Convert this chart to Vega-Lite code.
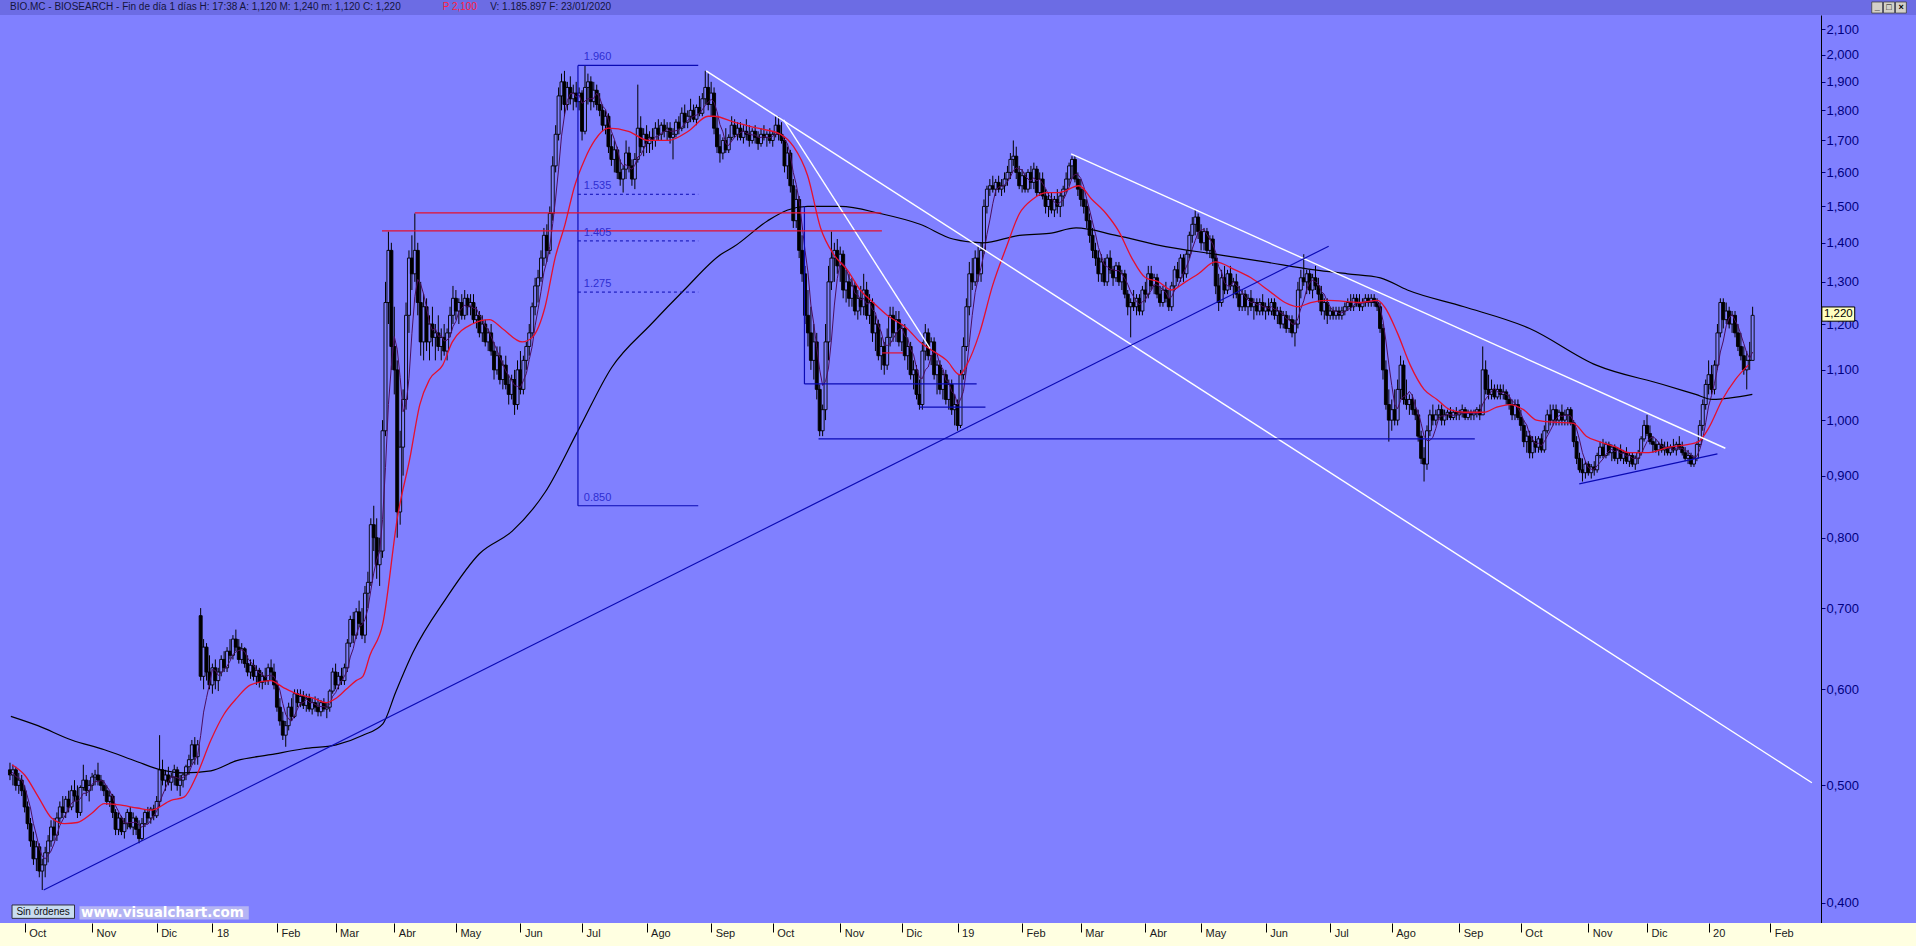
{
"$schema":"https://vega.github.io/schema/vega-lite/v6.json",
"width":1821,"height":908,
"autosize":{"type":"none"},
"padding":{"left":0,"top":15,"right":95,"bottom":23},
"background":"#8080FF",
"config":{"view":{"stroke":null},"font":"Liberation Sans"},
"datasets":{
"bars":[
{"i":0,"o":0.515,"h":0.522,"l":0.505,"c":0.51},{"i":1,"o":0.51,"h":0.52,"l":0.50,"c":0.515},{"i":2,"o":0.515,"h":0.518,"l":0.495,"c":0.50},{"i":3,"o":0.50,"h":0.512,"l":0.492,"c":0.505},{"i":4,"o":0.505,"h":0.51,"l":0.49,"c":0.495},{"i":5,"o":0.495,"h":0.50,"l":0.475,"c":0.48},{"i":6,"o":0.48,"h":0.485,"l":0.46,"c":0.465},{"i":7,"o":0.465,"h":0.47,"l":0.445,"c":0.45},{"i":8,"o":0.45,"h":0.458,"l":0.43,"c":0.435},{"i":9,"o":0.435,"h":0.45,"l":0.425,"c":0.445},
{"i":10,"o":0.445,"h":0.448,"l":0.42,"c":0.425},{"i":11,"o":0.425,"h":0.435,"l":0.41,"c":0.43},{"i":12,"o":0.43,"h":0.445,"l":0.42,"c":0.44},{"i":13,"o":0.44,"h":0.455,"l":0.432,"c":0.45},{"i":14,"o":0.45,"h":0.468,"l":0.445,"c":0.462},{"i":15,"o":0.462,"h":0.47,"l":0.45,"c":0.455},{"i":16,"o":0.455,"h":0.475,"l":0.45,"c":0.47},{"i":17,"o":0.47,"h":0.485,"l":0.465,"c":0.48},{"i":18,"o":0.48,"h":0.49,"l":0.47,"c":0.475},{"i":19,"o":0.475,"h":0.49,"l":0.47,"c":0.487},
{"i":20,"o":0.487,"h":0.495,"l":0.475,"c":0.48},{"i":21,"o":0.48,"h":0.50,"l":0.477,"c":0.495},{"i":22,"o":0.495,"h":0.505,"l":0.485,"c":0.49},{"i":23,"o":0.49,"h":0.50,"l":0.47,"c":0.475},{"i":24,"o":0.475,"h":0.50,"l":0.472,"c":0.498},{"i":25,"o":0.498,"h":0.52,"l":0.495,"c":0.505},{"i":26,"o":0.505,"h":0.51,"l":0.49,"c":0.495},{"i":27,"o":0.495,"h":0.505,"l":0.485,"c":0.50},{"i":28,"o":0.50,"h":0.512,"l":0.495,"c":0.508},{"i":29,"o":0.508,"h":0.515,"l":0.50,"c":0.51},
{"i":30,"o":0.51,"h":0.522,"l":0.50,"c":0.505},{"i":31,"o":0.505,"h":0.51,"l":0.495,"c":0.50},{"i":32,"o":0.50,"h":0.505,"l":0.49,"c":0.495},{"i":33,"o":0.495,"h":0.50,"l":0.482,"c":0.485},{"i":34,"o":0.485,"h":0.495,"l":0.48,"c":0.49},{"i":35,"o":0.49,"h":0.492,"l":0.47,"c":0.475},{"i":36,"o":0.475,"h":0.478,"l":0.455,"c":0.46},{"i":37,"o":0.46,"h":0.475,"l":0.455,"c":0.47},{"i":38,"o":0.47,"h":0.472,"l":0.455,"c":0.458},{"i":39,"o":0.458,"h":0.47,"l":0.452,"c":0.465},
{"i":40,"o":0.465,"h":0.478,"l":0.46,"c":0.475},{"i":41,"o":0.475,"h":0.48,"l":0.46,"c":0.462},{"i":42,"o":0.462,"h":0.475,"l":0.455,"c":0.47},{"i":43,"o":0.47,"h":0.472,"l":0.455,"c":0.46},{"i":44,"o":0.46,"h":0.468,"l":0.448,"c":0.452},{"i":45,"o":0.452,"h":0.47,"l":0.45,"c":0.465},{"i":46,"o":0.465,"h":0.478,"l":0.462,"c":0.475},{"i":47,"o":0.475,"h":0.48,"l":0.465,"c":0.47},{"i":48,"o":0.47,"h":0.48,"l":0.465,"c":0.478},{"i":49,"o":0.478,"h":0.482,"l":0.468,"c":0.472},
{"i":50,"o":0.472,"h":0.49,"l":0.47,"c":0.485},{"i":51,"o":0.485,"h":0.55,"l":0.48,"c":0.515},{"i":52,"o":0.515,"h":0.525,"l":0.50,"c":0.505},{"i":53,"o":0.505,"h":0.515,"l":0.495,"c":0.51},{"i":54,"o":0.51,"h":0.518,"l":0.50,"c":0.503},{"i":55,"o":0.503,"h":0.512,"l":0.495,"c":0.508},{"i":56,"o":0.508,"h":0.52,"l":0.50,"c":0.515},{"i":57,"o":0.515,"h":0.518,"l":0.495,"c":0.50},{"i":58,"o":0.50,"h":0.51,"l":0.49,"c":0.505},{"i":59,"o":0.505,"h":0.512,"l":0.498,"c":0.51},
{"i":60,"o":0.51,"h":0.52,"l":0.505,"c":0.518},{"i":61,"o":0.518,"h":0.53,"l":0.51,"c":0.525},{"i":62,"o":0.525,"h":0.545,"l":0.52,"c":0.54},{"i":63,"o":0.54,"h":0.548,"l":0.52,"c":0.528},{"i":64,"o":0.528,"h":0.545,"l":0.52,"c":0.54},{"i":65,"o":0.69,"h":0.70,"l":0.61,"c":0.615},{"i":66,"o":0.615,"h":0.66,"l":0.60,"c":0.65},{"i":67,"o":0.65,"h":0.655,"l":0.61,"c":0.62},{"i":68,"o":0.62,"h":0.64,"l":0.60,"c":0.605},{"i":69,"o":0.605,"h":0.63,"l":0.595,"c":0.625},
{"i":70,"o":0.625,"h":0.635,"l":0.60,"c":0.61},{"i":71,"o":0.61,"h":0.625,"l":0.598,"c":0.62},{"i":72,"o":0.62,"h":0.64,"l":0.615,"c":0.635},{"i":73,"o":0.635,"h":0.645,"l":0.62,"c":0.625},{"i":74,"o":0.625,"h":0.65,"l":0.62,"c":0.645},{"i":75,"o":0.645,"h":0.66,"l":0.635,"c":0.64},{"i":76,"o":0.64,"h":0.665,"l":0.635,"c":0.66},{"i":77,"o":0.66,"h":0.672,"l":0.645,"c":0.65},{"i":78,"o":0.65,"h":0.66,"l":0.63,"c":0.635},{"i":79,"o":0.635,"h":0.655,"l":0.63,"c":0.648},
{"i":80,"o":0.648,"h":0.65,"l":0.625,"c":0.63},{"i":81,"o":0.63,"h":0.64,"l":0.615,"c":0.62},{"i":82,"o":0.62,"h":0.635,"l":0.612,"c":0.628},{"i":83,"o":0.628,"h":0.635,"l":0.61,"c":0.615},{"i":84,"o":0.615,"h":0.628,"l":0.605,"c":0.622},{"i":85,"o":0.622,"h":0.625,"l":0.602,"c":0.608},{"i":86,"o":0.608,"h":0.62,"l":0.60,"c":0.615},{"i":87,"o":0.615,"h":0.625,"l":0.605,"c":0.61},{"i":88,"o":0.61,"h":0.63,"l":0.605,"c":0.625},{"i":89,"o":0.625,"h":0.635,"l":0.61,"c":0.62},
{"i":90,"o":0.62,"h":0.63,"l":0.60,"c":0.605},{"i":91,"o":0.605,"h":0.61,"l":0.575,"c":0.58},{"i":92,"o":0.58,"h":0.59,"l":0.56,"c":0.565},{"i":93,"o":0.565,"h":0.575,"l":0.545,"c":0.55},{"i":94,"o":0.55,"h":0.565,"l":0.538,"c":0.56},{"i":95,"o":0.56,"h":0.585,"l":0.555,"c":0.58},{"i":96,"o":0.58,"h":0.59,"l":0.565,"c":0.57},{"i":97,"o":0.57,"h":0.60,"l":0.568,"c":0.595},{"i":98,"o":0.595,"h":0.60,"l":0.58,"c":0.585},{"i":99,"o":0.585,"h":0.60,"l":0.58,"c":0.592},
{"i":100,"o":0.592,"h":0.598,"l":0.578,"c":0.582},{"i":101,"o":0.582,"h":0.595,"l":0.575,"c":0.59},{"i":102,"o":0.59,"h":0.595,"l":0.575,"c":0.578},{"i":103,"o":0.578,"h":0.59,"l":0.572,"c":0.585},{"i":104,"o":0.585,"h":0.592,"l":0.575,"c":0.58},{"i":105,"o":0.58,"h":0.59,"l":0.57,"c":0.575},{"i":106,"o":0.575,"h":0.588,"l":0.57,"c":0.585},{"i":107,"o":0.585,"h":0.59,"l":0.575,"c":0.578},{"i":108,"o":0.578,"h":0.585,"l":0.568,"c":0.58},{"i":109,"o":0.58,"h":0.60,"l":0.575,"c":0.598},
{"i":110,"o":0.598,"h":0.625,"l":0.595,"c":0.62},{"i":111,"o":0.62,"h":0.63,"l":0.60,"c":0.605},{"i":112,"o":0.605,"h":0.62,"l":0.60,"c":0.615},{"i":113,"o":0.615,"h":0.625,"l":0.605,"c":0.61},{"i":114,"o":0.61,"h":0.63,"l":0.605,"c":0.625},{"i":115,"o":0.625,"h":0.66,"l":0.62,"c":0.655},{"i":116,"o":0.655,"h":0.69,"l":0.65,"c":0.685},{"i":117,"o":0.685,"h":0.695,"l":0.655,"c":0.665},{"i":118,"o":0.665,"h":0.70,"l":0.66,"c":0.695},{"i":119,"o":0.695,"h":0.71,"l":0.675,"c":0.68},
{"i":120,"o":0.68,"h":0.70,"l":0.66,"c":0.665},{"i":121,"o":0.665,"h":0.73,"l":0.655,"c":0.72},{"i":122,"o":0.72,"h":0.75,"l":0.70,"c":0.735},{"i":123,"o":0.735,"h":0.83,"l":0.73,"c":0.82},{"i":124,"o":0.82,"h":0.85,"l":0.78,"c":0.80},{"i":125,"o":0.80,"h":0.83,"l":0.74,"c":0.76},{"i":126,"o":0.76,"h":0.80,"l":0.73,"c":0.78},{"i":127,"o":0.78,"h":1.0,"l":0.77,"c":0.98},{"i":128,"o":0.98,"h":1.30,"l":0.97,"c":1.25},{"i":129,"o":1.25,"h":1.43,"l":1.20,"c":1.38},
{"i":130,"o":1.38,"h":1.40,"l":1.10,"c":1.15},{"i":131,"o":1.15,"h":1.24,"l":1.05,"c":1.10},{"i":132,"o":1.10,"h":1.12,"l":0.80,"c":0.84},{"i":133,"o":0.84,"h":0.98,"l":0.82,"c":0.95},{"i":134,"o":0.95,"h":1.06,"l":0.90,"c":1.04},{"i":135,"o":1.04,"h":1.25,"l":1.02,"c":1.22},{"i":136,"o":1.22,"h":1.38,"l":1.18,"c":1.36},{"i":137,"o":1.36,"h":1.42,"l":1.28,"c":1.32},{"i":138,"o":1.32,"h":1.48,"l":1.30,"c":1.38},{"i":139,"o":1.38,"h":1.40,"l":1.22,"c":1.25},
{"i":140,"o":1.25,"h":1.30,"l":1.13,"c":1.16},{"i":141,"o":1.16,"h":1.27,"l":1.12,"c":1.24},{"i":142,"o":1.24,"h":1.26,"l":1.14,"c":1.16},{"i":143,"o":1.16,"h":1.22,"l":1.12,"c":1.20},{"i":144,"o":1.20,"h":1.24,"l":1.15,"c":1.17},{"i":145,"o":1.17,"h":1.20,"l":1.12,"c":1.18},{"i":146,"o":1.18,"h":1.22,"l":1.14,"c":1.15},{"i":147,"o":1.15,"h":1.19,"l":1.12,"c":1.17},{"i":148,"o":1.17,"h":1.20,"l":1.13,"c":1.14},{"i":149,"o":1.14,"h":1.19,"l":1.12,"c":1.18},
{"i":150,"o":1.18,"h":1.24,"l":1.17,"c":1.22},{"i":151,"o":1.22,"h":1.29,"l":1.20,"c":1.26},{"i":152,"o":1.26,"h":1.28,"l":1.21,"c":1.23},{"i":153,"o":1.23,"h":1.26,"l":1.20,"c":1.25},{"i":154,"o":1.25,"h":1.27,"l":1.21,"c":1.22},{"i":155,"o":1.22,"h":1.28,"l":1.21,"c":1.26},{"i":156,"o":1.26,"h":1.27,"l":1.22,"c":1.24},{"i":157,"o":1.24,"h":1.27,"l":1.22,"c":1.25},{"i":158,"o":1.25,"h":1.27,"l":1.20,"c":1.21},{"i":159,"o":1.21,"h":1.24,"l":1.19,"c":1.22},
{"i":160,"o":1.22,"h":1.23,"l":1.17,"c":1.18},{"i":161,"o":1.18,"h":1.22,"l":1.16,"c":1.20},{"i":162,"o":1.20,"h":1.21,"l":1.15,"c":1.16},{"i":163,"o":1.16,"h":1.19,"l":1.14,"c":1.18},{"i":164,"o":1.18,"h":1.20,"l":1.13,"c":1.14},{"i":165,"o":1.14,"h":1.16,"l":1.08,"c":1.10},{"i":166,"o":1.10,"h":1.15,"l":1.09,"c":1.13},{"i":167,"o":1.13,"h":1.15,"l":1.07,"c":1.08},{"i":168,"o":1.08,"h":1.12,"l":1.06,"c":1.11},{"i":169,"o":1.11,"h":1.13,"l":1.06,"c":1.07},
{"i":170,"o":1.07,"h":1.09,"l":1.03,"c":1.05},{"i":171,"o":1.05,"h":1.09,"l":1.04,"c":1.08},{"i":172,"o":1.08,"h":1.10,"l":1.01,"c":1.03},{"i":173,"o":1.03,"h":1.12,"l":1.02,"c":1.10},{"i":174,"o":1.10,"h":1.14,"l":1.05,"c":1.06},{"i":175,"o":1.06,"h":1.13,"l":1.05,"c":1.12},{"i":176,"o":1.12,"h":1.16,"l":1.10,"c":1.15},{"i":177,"o":1.15,"h":1.20,"l":1.13,"c":1.18},{"i":178,"o":1.18,"h":1.25,"l":1.17,"c":1.24},{"i":179,"o":1.24,"h":1.31,"l":1.22,"c":1.29},
{"i":180,"o":1.29,"h":1.33,"l":1.25,"c":1.31},{"i":181,"o":1.31,"h":1.38,"l":1.30,"c":1.36},{"i":182,"o":1.36,"h":1.44,"l":1.34,"c":1.42},{"i":183,"o":1.42,"h":1.45,"l":1.35,"c":1.38},{"i":184,"o":1.38,"h":1.50,"l":1.37,"c":1.48},{"i":185,"o":1.48,"h":1.65,"l":1.46,"c":1.62},{"i":186,"o":1.62,"h":1.75,"l":1.60,"c":1.72},{"i":187,"o":1.72,"h":1.88,"l":1.70,"c":1.85},{"i":188,"o":1.85,"h":1.93,"l":1.80,"c":1.90},{"i":189,"o":1.90,"h":1.94,"l":1.78,"c":1.82},
{"i":190,"o":1.82,"h":1.90,"l":1.80,"c":1.88},{"i":191,"o":1.88,"h":1.92,"l":1.82,"c":1.84},{"i":192,"o":1.84,"h":1.89,"l":1.80,"c":1.86},{"i":193,"o":1.86,"h":1.90,"l":1.81,"c":1.83},{"i":194,"o":1.83,"h":1.88,"l":1.80,"c":1.86},{"i":195,"o":1.86,"h":1.87,"l":1.70,"c":1.73},{"i":196,"o":1.73,"h":1.96,"l":1.72,"c":1.88},{"i":197,"o":1.88,"h":1.93,"l":1.82,"c":1.90},{"i":198,"o":1.90,"h":1.92,"l":1.80,"c":1.83},{"i":199,"o":1.83,"h":1.90,"l":1.81,"c":1.87},
{"i":200,"o":1.87,"h":1.89,"l":1.80,"c":1.82},{"i":201,"o":1.82,"h":1.86,"l":1.78,"c":1.80},{"i":202,"o":1.80,"h":1.82,"l":1.73,"c":1.75},{"i":203,"o":1.75,"h":1.80,"l":1.72,"c":1.78},{"i":204,"o":1.78,"h":1.79,"l":1.66,"c":1.68},{"i":205,"o":1.68,"h":1.72,"l":1.62,"c":1.64},{"i":206,"o":1.64,"h":1.70,"l":1.60,"c":1.67},{"i":207,"o":1.67,"h":1.68,"l":1.58,"c":1.60},{"i":208,"o":1.60,"h":1.64,"l":1.56,"c":1.58},{"i":209,"o":1.58,"h":1.62,"l":1.54,"c":1.61},
{"i":210,"o":1.61,"h":1.70,"l":1.58,"c":1.66},{"i":211,"o":1.66,"h":1.68,"l":1.60,"c":1.62},{"i":212,"o":1.62,"h":1.64,"l":1.56,"c":1.58},{"i":213,"o":1.58,"h":1.66,"l":1.55,"c":1.64},{"i":214,"o":1.64,"h":1.89,"l":1.63,"c":1.74},{"i":215,"o":1.74,"h":1.78,"l":1.66,"c":1.68},{"i":216,"o":1.68,"h":1.74,"l":1.65,"c":1.72},{"i":217,"o":1.72,"h":1.75,"l":1.66,"c":1.69},{"i":218,"o":1.69,"h":1.73,"l":1.66,"c":1.71},{"i":219,"o":1.71,"h":1.74,"l":1.67,"c":1.70},
{"i":220,"o":1.70,"h":1.76,"l":1.68,"c":1.74},{"i":221,"o":1.74,"h":1.77,"l":1.70,"c":1.72},{"i":222,"o":1.72,"h":1.76,"l":1.70,"c":1.75},{"i":223,"o":1.75,"h":1.77,"l":1.71,"c":1.73},{"i":224,"o":1.73,"h":1.76,"l":1.70,"c":1.74},{"i":225,"o":1.74,"h":1.76,"l":1.69,"c":1.71},{"i":226,"o":1.71,"h":1.74,"l":1.64,"c":1.72},{"i":227,"o":1.72,"h":1.77,"l":1.71,"c":1.76},{"i":228,"o":1.76,"h":1.78,"l":1.72,"c":1.74},{"i":229,"o":1.74,"h":1.81,"l":1.73,"c":1.79},
{"i":230,"o":1.79,"h":1.82,"l":1.74,"c":1.76},{"i":231,"o":1.76,"h":1.80,"l":1.74,"c":1.78},{"i":232,"o":1.78,"h":1.84,"l":1.76,"c":1.80},{"i":233,"o":1.80,"h":1.82,"l":1.76,"c":1.77},{"i":234,"o":1.77,"h":1.82,"l":1.75,"c":1.81},{"i":235,"o":1.81,"h":1.85,"l":1.78,"c":1.79},{"i":236,"o":1.79,"h":1.86,"l":1.78,"c":1.84},{"i":237,"o":1.84,"h":1.94,"l":1.82,"c":1.88},{"i":238,"o":1.88,"h":1.93,"l":1.80,"c":1.82},{"i":239,"o":1.82,"h":1.90,"l":1.78,"c":1.86},
{"i":240,"o":1.86,"h":1.88,"l":1.72,"c":1.74},{"i":241,"o":1.74,"h":1.78,"l":1.66,"c":1.68},{"i":242,"o":1.68,"h":1.72,"l":1.63,"c":1.66},{"i":243,"o":1.66,"h":1.71,"l":1.64,"c":1.70},{"i":244,"o":1.70,"h":1.74,"l":1.66,"c":1.67},{"i":245,"o":1.67,"h":1.72,"l":1.66,"c":1.71},{"i":246,"o":1.71,"h":1.78,"l":1.70,"c":1.75},{"i":247,"o":1.75,"h":1.77,"l":1.71,"c":1.72},{"i":248,"o":1.72,"h":1.76,"l":1.70,"c":1.74},{"i":249,"o":1.74,"h":1.76,"l":1.70,"c":1.71},
{"i":250,"o":1.71,"h":1.75,"l":1.69,"c":1.73},{"i":251,"o":1.73,"h":1.77,"l":1.70,"c":1.72},{"i":252,"o":1.72,"h":1.75,"l":1.68,"c":1.70},{"i":253,"o":1.70,"h":1.74,"l":1.69,"c":1.73},{"i":254,"o":1.73,"h":1.75,"l":1.69,"c":1.71},{"i":255,"o":1.71,"h":1.73,"l":1.67,"c":1.69},{"i":256,"o":1.69,"h":1.74,"l":1.68,"c":1.72},{"i":257,"o":1.72,"h":1.75,"l":1.70,"c":1.71},{"i":258,"o":1.71,"h":1.73,"l":1.68,"c":1.72},{"i":259,"o":1.72,"h":1.74,"l":1.69,"c":1.70},
{"i":260,"o":1.70,"h":1.73,"l":1.68,"c":1.72},{"i":261,"o":1.72,"h":1.78,"l":1.71,"c":1.75},{"i":262,"o":1.75,"h":1.78,"l":1.70,"c":1.72},{"i":263,"o":1.72,"h":1.76,"l":1.69,"c":1.70},{"i":264,"o":1.70,"h":1.71,"l":1.60,"c":1.62},{"i":265,"o":1.62,"h":1.68,"l":1.58,"c":1.66},{"i":266,"o":1.66,"h":1.67,"l":1.54,"c":1.56},{"i":267,"o":1.56,"h":1.58,"l":1.44,"c":1.46},{"i":268,"o":1.46,"h":1.55,"l":1.44,"c":1.52},{"i":269,"o":1.52,"h":1.53,"l":1.36,"c":1.38},
{"i":270,"o":1.38,"h":1.42,"l":1.30,"c":1.32},{"i":271,"o":1.32,"h":1.34,"l":1.20,"c":1.22},{"i":272,"o":1.22,"h":1.28,"l":1.15,"c":1.18},{"i":273,"o":1.18,"h":1.24,"l":1.10,"c":1.12},{"i":274,"o":1.12,"h":1.20,"l":1.08,"c":1.16},{"i":275,"o":1.16,"h":1.18,"l":1.04,"c":1.06},{"i":276,"o":1.06,"h":1.07,"l":0.97,"c":0.98},{"i":277,"o":0.98,"h":1.03,"l":0.97,"c":1.02},{"i":278,"o":1.02,"h":1.20,"l":1.00,"c":1.16},{"i":279,"o":1.16,"h":1.34,"l":1.12,"c":1.30},
{"i":280,"o":1.30,"h":1.43,"l":1.28,"c":1.36},{"i":281,"o":1.36,"h":1.40,"l":1.30,"c":1.38},{"i":282,"o":1.38,"h":1.41,"l":1.32,"c":1.34},{"i":283,"o":1.34,"h":1.39,"l":1.30,"c":1.37},{"i":284,"o":1.37,"h":1.38,"l":1.26,"c":1.28},{"i":285,"o":1.28,"h":1.33,"l":1.25,"c":1.30},{"i":286,"o":1.30,"h":1.32,"l":1.24,"c":1.26},{"i":287,"o":1.26,"h":1.31,"l":1.24,"c":1.29},{"i":288,"o":1.29,"h":1.30,"l":1.22,"c":1.23},{"i":289,"o":1.23,"h":1.28,"l":1.21,"c":1.26},
{"i":290,"o":1.26,"h":1.29,"l":1.22,"c":1.24},{"i":291,"o":1.24,"h":1.32,"l":1.22,"c":1.28},{"i":292,"o":1.28,"h":1.30,"l":1.21,"c":1.22},{"i":293,"o":1.22,"h":1.27,"l":1.20,"c":1.25},{"i":294,"o":1.25,"h":1.26,"l":1.16,"c":1.18},{"i":295,"o":1.18,"h":1.22,"l":1.14,"c":1.20},{"i":296,"o":1.20,"h":1.21,"l":1.12,"c":1.13},{"i":297,"o":1.13,"h":1.17,"l":1.10,"c":1.15},{"i":298,"o":1.15,"h":1.16,"l":1.09,"c":1.11},{"i":299,"o":1.11,"h":1.19,"l":1.10,"c":1.17},
{"i":300,"o":1.17,"h":1.24,"l":1.15,"c":1.22},{"i":301,"o":1.22,"h":1.24,"l":1.16,"c":1.18},{"i":302,"o":1.18,"h":1.23,"l":1.16,"c":1.21},{"i":303,"o":1.21,"h":1.23,"l":1.15,"c":1.16},{"i":304,"o":1.16,"h":1.20,"l":1.14,"c":1.19},{"i":305,"o":1.19,"h":1.20,"l":1.12,"c":1.13},{"i":306,"o":1.13,"h":1.17,"l":1.10,"c":1.15},{"i":307,"o":1.15,"h":1.16,"l":1.08,"c":1.09},{"i":308,"o":1.09,"h":1.12,"l":1.06,"c":1.10},{"i":309,"o":1.10,"h":1.11,"l":1.04,"c":1.05},
{"i":310,"o":1.05,"h":1.08,"l":1.02,"c":1.03},{"i":311,"o":1.03,"h":1.16,"l":1.02,"c":1.14},{"i":312,"o":1.14,"h":1.20,"l":1.12,"c":1.18},{"i":313,"o":1.18,"h":1.19,"l":1.12,"c":1.13},{"i":314,"o":1.13,"h":1.17,"l":1.11,"c":1.16},{"i":315,"o":1.16,"h":1.17,"l":1.08,"c":1.09},{"i":316,"o":1.09,"h":1.12,"l":1.05,"c":1.11},{"i":317,"o":1.11,"h":1.12,"l":1.05,"c":1.06},{"i":318,"o":1.06,"h":1.10,"l":1.04,"c":1.09},{"i":319,"o":1.09,"h":1.10,"l":1.03,"c":1.04},
{"i":320,"o":1.04,"h":1.08,"l":1.02,"c":1.07},{"i":321,"o":1.07,"h":1.08,"l":1.01,"c":1.02},{"i":322,"o":1.02,"h":1.05,"l":0.99,"c":1.03},{"i":323,"o":1.03,"h":1.04,"l":0.98,"c":0.99},{"i":324,"o":0.99,"h":1.10,"l":0.985,"c":1.09},{"i":325,"o":1.09,"h":1.17,"l":1.08,"c":1.15},{"i":326,"o":1.15,"h":1.26,"l":1.14,"c":1.24},{"i":327,"o":1.24,"h":1.35,"l":1.22,"c":1.32},{"i":328,"o":1.32,"h":1.36,"l":1.28,"c":1.30},{"i":329,"o":1.30,"h":1.38,"l":1.29,"c":1.36},
{"i":330,"o":1.36,"h":1.39,"l":1.30,"c":1.32},{"i":331,"o":1.32,"h":1.40,"l":1.30,"c":1.38},{"i":332,"o":1.38,"h":1.52,"l":1.37,"c":1.50},{"i":333,"o":1.50,"h":1.56,"l":1.48,"c":1.55},{"i":334,"o":1.55,"h":1.58,"l":1.53,"c":1.56},{"i":335,"o":1.56,"h":1.59,"l":1.54,"c":1.55},{"i":336,"o":1.55,"h":1.58,"l":1.53,"c":1.57},{"i":337,"o":1.57,"h":1.59,"l":1.54,"c":1.55},{"i":338,"o":1.55,"h":1.58,"l":1.53,"c":1.56},{"i":339,"o":1.56,"h":1.60,"l":1.54,"c":1.58},
{"i":340,"o":1.58,"h":1.62,"l":1.56,"c":1.60},{"i":341,"o":1.60,"h":1.66,"l":1.58,"c":1.64},{"i":342,"o":1.64,"h":1.70,"l":1.62,"c":1.65},{"i":343,"o":1.65,"h":1.68,"l":1.58,"c":1.60},{"i":344,"o":1.60,"h":1.62,"l":1.55,"c":1.56},{"i":345,"o":1.56,"h":1.61,"l":1.54,"c":1.59},{"i":346,"o":1.59,"h":1.60,"l":1.54,"c":1.55},{"i":347,"o":1.55,"h":1.61,"l":1.54,"c":1.60},{"i":348,"o":1.60,"h":1.62,"l":1.55,"c":1.57},{"i":349,"o":1.57,"h":1.63,"l":1.55,"c":1.61},
{"i":350,"o":1.61,"h":1.62,"l":1.53,"c":1.54},{"i":351,"o":1.54,"h":1.60,"l":1.53,"c":1.58},{"i":352,"o":1.58,"h":1.60,"l":1.52,"c":1.53},{"i":353,"o":1.53,"h":1.55,"l":1.48,"c":1.50},{"i":354,"o":1.50,"h":1.54,"l":1.47,"c":1.52},{"i":355,"o":1.52,"h":1.54,"l":1.48,"c":1.49},{"i":356,"o":1.49,"h":1.53,"l":1.47,"c":1.52},{"i":357,"o":1.52,"h":1.55,"l":1.48,"c":1.50},{"i":358,"o":1.50,"h":1.54,"l":1.47,"c":1.53},{"i":359,"o":1.53,"h":1.56,"l":1.50,"c":1.55},
{"i":360,"o":1.55,"h":1.60,"l":1.54,"c":1.58},{"i":361,"o":1.58,"h":1.63,"l":1.56,"c":1.62},{"i":362,"o":1.62,"h":1.65,"l":1.58,"c":1.64},{"i":363,"o":1.64,"h":1.65,"l":1.57,"c":1.58},{"i":364,"o":1.58,"h":1.60,"l":1.53,"c":1.55},{"i":365,"o":1.55,"h":1.58,"l":1.50,"c":1.52},{"i":366,"o":1.52,"h":1.55,"l":1.48,"c":1.50},{"i":367,"o":1.50,"h":1.52,"l":1.44,"c":1.46},{"i":368,"o":1.46,"h":1.48,"l":1.40,"c":1.42},{"i":369,"o":1.42,"h":1.44,"l":1.36,"c":1.38},
{"i":370,"o":1.38,"h":1.40,"l":1.34,"c":1.36},{"i":371,"o":1.36,"h":1.38,"l":1.30,"c":1.32},{"i":372,"o":1.32,"h":1.37,"l":1.30,"c":1.35},{"i":373,"o":1.35,"h":1.36,"l":1.29,"c":1.30},{"i":374,"o":1.30,"h":1.37,"l":1.29,"c":1.36},{"i":375,"o":1.36,"h":1.38,"l":1.32,"c":1.33},{"i":376,"o":1.33,"h":1.34,"l":1.29,"c":1.31},{"i":377,"o":1.31,"h":1.35,"l":1.30,"c":1.34},{"i":378,"o":1.34,"h":1.35,"l":1.29,"c":1.30},{"i":379,"o":1.30,"h":1.33,"l":1.28,"c":1.32},
{"i":380,"o":1.32,"h":1.33,"l":1.26,"c":1.27},{"i":381,"o":1.27,"h":1.28,"l":1.22,"c":1.24},{"i":382,"o":1.24,"h":1.26,"l":1.17,"c":1.25},{"i":383,"o":1.25,"h":1.28,"l":1.23,"c":1.24},{"i":384,"o":1.24,"h":1.27,"l":1.22,"c":1.26},{"i":385,"o":1.26,"h":1.27,"l":1.22,"c":1.23},{"i":386,"o":1.23,"h":1.29,"l":1.22,"c":1.28},{"i":387,"o":1.28,"h":1.30,"l":1.25,"c":1.27},{"i":388,"o":1.27,"h":1.34,"l":1.26,"c":1.32},{"i":389,"o":1.32,"h":1.34,"l":1.28,"c":1.29},
{"i":390,"o":1.29,"h":1.32,"l":1.27,"c":1.31},{"i":391,"o":1.31,"h":1.32,"l":1.26,"c":1.27},{"i":392,"o":1.27,"h":1.29,"l":1.24,"c":1.25},{"i":393,"o":1.25,"h":1.29,"l":1.24,"c":1.28},{"i":394,"o":1.28,"h":1.30,"l":1.25,"c":1.26},{"i":395,"o":1.26,"h":1.28,"l":1.23,"c":1.24},{"i":396,"o":1.24,"h":1.30,"l":1.23,"c":1.29},{"i":397,"o":1.29,"h":1.34,"l":1.28,"c":1.33},{"i":398,"o":1.33,"h":1.35,"l":1.30,"c":1.31},{"i":399,"o":1.31,"h":1.37,"l":1.30,"c":1.36},
{"i":400,"o":1.36,"h":1.37,"l":1.30,"c":1.32},{"i":401,"o":1.32,"h":1.38,"l":1.31,"c":1.37},{"i":402,"o":1.37,"h":1.43,"l":1.36,"c":1.42},{"i":403,"o":1.42,"h":1.47,"l":1.40,"c":1.45},{"i":404,"o":1.45,"h":1.49,"l":1.42,"c":1.47},{"i":405,"o":1.47,"h":1.48,"l":1.41,"c":1.43},{"i":406,"o":1.43,"h":1.45,"l":1.38,"c":1.40},{"i":407,"o":1.40,"h":1.44,"l":1.38,"c":1.43},{"i":408,"o":1.43,"h":1.44,"l":1.37,"c":1.38},{"i":409,"o":1.38,"h":1.42,"l":1.36,"c":1.41},
{"i":410,"o":1.41,"h":1.42,"l":1.34,"c":1.36},{"i":411,"o":1.36,"h":1.37,"l":1.27,"c":1.29},{"i":412,"o":1.29,"h":1.32,"l":1.23,"c":1.25},{"i":413,"o":1.25,"h":1.33,"l":1.24,"c":1.31},{"i":414,"o":1.31,"h":1.34,"l":1.27,"c":1.28},{"i":415,"o":1.28,"h":1.33,"l":1.27,"c":1.32},{"i":416,"o":1.32,"h":1.34,"l":1.28,"c":1.29},{"i":417,"o":1.29,"h":1.31,"l":1.26,"c":1.30},{"i":418,"o":1.30,"h":1.32,"l":1.26,"c":1.27},{"i":419,"o":1.27,"h":1.29,"l":1.23,"c":1.24},
{"i":420,"o":1.24,"h":1.28,"l":1.23,"c":1.27},{"i":421,"o":1.27,"h":1.28,"l":1.23,"c":1.24},{"i":422,"o":1.24,"h":1.27,"l":1.22,"c":1.26},{"i":423,"o":1.26,"h":1.28,"l":1.23,"c":1.24},{"i":424,"o":1.24,"h":1.26,"l":1.21,"c":1.25},{"i":425,"o":1.25,"h":1.26,"l":1.22,"c":1.23},{"i":426,"o":1.23,"h":1.26,"l":1.22,"c":1.25},{"i":427,"o":1.25,"h":1.27,"l":1.22,"c":1.23},{"i":428,"o":1.23,"h":1.25,"l":1.21,"c":1.24},{"i":429,"o":1.24,"h":1.26,"l":1.22,"c":1.23},
{"i":430,"o":1.23,"h":1.26,"l":1.22,"c":1.25},{"i":431,"o":1.25,"h":1.26,"l":1.21,"c":1.22},{"i":432,"o":1.22,"h":1.24,"l":1.20,"c":1.23},{"i":433,"o":1.23,"h":1.24,"l":1.19,"c":1.20},{"i":434,"o":1.20,"h":1.23,"l":1.19,"c":1.22},{"i":435,"o":1.22,"h":1.23,"l":1.18,"c":1.19},{"i":436,"o":1.19,"h":1.22,"l":1.18,"c":1.21},{"i":437,"o":1.21,"h":1.22,"l":1.17,"c":1.18},{"i":438,"o":1.18,"h":1.21,"l":1.15,"c":1.20},{"i":439,"o":1.20,"h":1.30,"l":1.19,"c":1.28},
{"i":440,"o":1.28,"h":1.33,"l":1.26,"c":1.31},{"i":441,"o":1.31,"h":1.37,"l":1.29,"c":1.30},{"i":442,"o":1.30,"h":1.33,"l":1.27,"c":1.32},{"i":443,"o":1.32,"h":1.33,"l":1.27,"c":1.28},{"i":444,"o":1.28,"h":1.32,"l":1.26,"c":1.31},{"i":445,"o":1.31,"h":1.34,"l":1.28,"c":1.29},{"i":446,"o":1.29,"h":1.31,"l":1.25,"c":1.27},{"i":447,"o":1.27,"h":1.29,"l":1.22,"c":1.23},{"i":448,"o":1.23,"h":1.26,"l":1.21,"c":1.25},{"i":449,"o":1.25,"h":1.26,"l":1.20,"c":1.22},
{"i":450,"o":1.22,"h":1.24,"l":1.21,"c":1.23},{"i":451,"o":1.23,"h":1.24,"l":1.21,"c":1.22},{"i":452,"o":1.22,"h":1.24,"l":1.21,"c":1.23},{"i":453,"o":1.23,"h":1.24,"l":1.21,"c":1.22},{"i":454,"o":1.22,"h":1.24,"l":1.21,"c":1.23},{"i":455,"o":1.23,"h":1.25,"l":1.22,"c":1.24},{"i":456,"o":1.24,"h":1.26,"l":1.23,"c":1.25},{"i":457,"o":1.25,"h":1.27,"l":1.23,"c":1.24},{"i":458,"o":1.24,"h":1.27,"l":1.23,"c":1.26},{"i":459,"o":1.26,"h":1.27,"l":1.24,"c":1.25},
{"i":460,"o":1.25,"h":1.27,"l":1.23,"c":1.24},{"i":461,"o":1.24,"h":1.26,"l":1.23,"c":1.25},{"i":462,"o":1.25,"h":1.27,"l":1.24,"c":1.26},{"i":463,"o":1.26,"h":1.27,"l":1.24,"c":1.25},{"i":464,"o":1.25,"h":1.27,"l":1.24,"c":1.26},{"i":465,"o":1.26,"h":1.27,"l":1.24,"c":1.25},{"i":466,"o":1.25,"h":1.26,"l":1.23,"c":1.24},{"i":467,"o":1.24,"h":1.25,"l":1.18,"c":1.19},{"i":468,"o":1.19,"h":1.20,"l":1.08,"c":1.10},{"i":469,"o":1.10,"h":1.12,"l":1.02,"c":1.03},
{"i":470,"o":1.03,"h":1.06,"l":0.96,"c":1.00},{"i":471,"o":1.00,"h":1.04,"l":0.98,"c":1.02},{"i":472,"o":1.02,"h":1.06,"l":0.99,"c":1.00},{"i":473,"o":1.00,"h":1.08,"l":0.99,"c":1.06},{"i":474,"o":1.06,"h":1.13,"l":1.04,"c":1.11},{"i":475,"o":1.11,"h":1.12,"l":1.03,"c":1.04},{"i":476,"o":1.04,"h":1.08,"l":1.02,"c":1.03},{"i":477,"o":1.03,"h":1.05,"l":1.01,"c":1.04},{"i":478,"o":1.04,"h":1.05,"l":1.01,"c":1.02},{"i":479,"o":1.02,"h":1.04,"l":1.00,"c":1.01},
{"i":480,"o":1.01,"h":1.02,"l":0.96,"c":0.97},{"i":481,"o":0.97,"h":0.98,"l":0.92,"c":0.93},{"i":482,"o":0.93,"h":0.95,"l":0.89,"c":0.92},{"i":483,"o":0.92,"h":0.99,"l":0.91,"c":0.98},{"i":484,"o":0.98,"h":1.02,"l":0.97,"c":1.01},{"i":485,"o":1.01,"h":1.03,"l":0.99,"c":1.00},{"i":486,"o":1.00,"h":1.02,"l":0.99,"c":1.01},{"i":487,"o":1.01,"h":1.03,"l":1.00,"c":1.02},{"i":488,"o":1.02,"h":1.03,"l":0.99,"c":1.00},{"i":489,"o":1.00,"h":1.02,"l":0.99,"c":1.01},
{"i":490,"o":1.01,"h":1.02,"l":1.00,"c":1.015},{"i":491,"o":1.015,"h":1.025,"l":1.00,"c":1.005},{"i":492,"o":1.005,"h":1.02,"l":1.00,"c":1.015},{"i":493,"o":1.015,"h":1.025,"l":1.00,"c":1.01},{"i":494,"o":1.01,"h":1.02,"l":1.00,"c":1.015},{"i":495,"o":1.015,"h":1.03,"l":1.005,"c":1.02},{"i":496,"o":1.02,"h":1.025,"l":1.00,"c":1.005},{"i":497,"o":1.005,"h":1.02,"l":1.00,"c":1.015},{"i":498,"o":1.015,"h":1.02,"l":1.00,"c":1.01},{"i":499,"o":1.01,"h":1.02,"l":1.00,"c":1.015},
{"i":500,"o":1.015,"h":1.025,"l":1.005,"c":1.02},{"i":501,"o":1.02,"h":1.03,"l":1.00,"c":1.01},{"i":502,"o":1.01,"h":1.15,"l":1.01,"c":1.10},{"i":503,"o":1.10,"h":1.12,"l":1.05,"c":1.06},{"i":504,"o":1.06,"h":1.09,"l":1.04,"c":1.05},{"i":505,"o":1.05,"h":1.08,"l":1.04,"c":1.06},{"i":506,"o":1.06,"h":1.07,"l":1.04,"c":1.045},{"i":507,"o":1.045,"h":1.07,"l":1.04,"c":1.06},{"i":508,"o":1.06,"h":1.07,"l":1.04,"c":1.05},{"i":509,"o":1.05,"h":1.07,"l":1.04,"c":1.055},
{"i":510,"o":1.055,"h":1.06,"l":1.03,"c":1.04},{"i":511,"o":1.04,"h":1.05,"l":1.02,"c":1.03},{"i":512,"o":1.03,"h":1.04,"l":1.00,"c":1.01},{"i":513,"o":1.01,"h":1.04,"l":1.00,"c":1.03},{"i":514,"o":1.03,"h":1.04,"l":1.00,"c":1.005},{"i":515,"o":1.005,"h":1.02,"l":0.98,"c":0.99},{"i":516,"o":0.99,"h":1.00,"l":0.95,"c":0.96},{"i":517,"o":0.96,"h":0.98,"l":0.94,"c":0.97},{"i":518,"o":0.97,"h":0.98,"l":0.93,"c":0.94},{"i":519,"o":0.94,"h":0.97,"l":0.93,"c":0.96},
{"i":520,"o":0.96,"h":0.97,"l":0.94,"c":0.95},{"i":521,"o":0.95,"h":0.97,"l":0.94,"c":0.965},{"i":522,"o":0.965,"h":0.975,"l":0.94,"c":0.945},{"i":523,"o":0.945,"h":0.99,"l":0.94,"c":0.98},{"i":524,"o":0.98,"h":1.02,"l":0.975,"c":1.01},{"i":525,"o":1.01,"h":1.03,"l":0.99,"c":1.00},{"i":526,"o":1.00,"h":1.03,"l":0.99,"c":1.02},{"i":527,"o":1.02,"h":1.03,"l":0.99,"c":1.00},{"i":528,"o":1.00,"h":1.02,"l":0.99,"c":1.015},{"i":529,"o":1.015,"h":1.03,"l":0.99,"c":1.00},
{"i":530,"o":1.00,"h":1.02,"l":0.99,"c":1.01},{"i":531,"o":1.01,"h":1.025,"l":0.99,"c":1.02},{"i":532,"o":1.02,"h":1.025,"l":0.99,"c":0.995},{"i":533,"o":0.995,"h":1.00,"l":0.95,"c":0.96},{"i":534,"o":0.96,"h":0.97,"l":0.92,"c":0.93},{"i":535,"o":0.93,"h":0.94,"l":0.905,"c":0.91},{"i":536,"o":0.91,"h":0.93,"l":0.89,"c":0.905},{"i":537,"o":0.905,"h":0.925,"l":0.895,"c":0.92},{"i":538,"o":0.92,"h":0.925,"l":0.90,"c":0.905},{"i":539,"o":0.905,"h":0.92,"l":0.895,"c":0.915},
{"i":540,"o":0.915,"h":0.925,"l":0.90,"c":0.91},{"i":541,"o":0.91,"h":0.94,"l":0.905,"c":0.935},{"i":542,"o":0.935,"h":0.96,"l":0.93,"c":0.95},{"i":543,"o":0.95,"h":0.965,"l":0.93,"c":0.935},{"i":544,"o":0.935,"h":0.96,"l":0.93,"c":0.955},{"i":545,"o":0.955,"h":0.96,"l":0.935,"c":0.94},{"i":546,"o":0.94,"h":0.955,"l":0.925,"c":0.95},{"i":547,"o":0.95,"h":0.955,"l":0.925,"c":0.93},{"i":548,"o":0.93,"h":0.95,"l":0.92,"c":0.945},{"i":549,"o":0.945,"h":0.955,"l":0.925,"c":0.93},
{"i":550,"o":0.93,"h":0.945,"l":0.92,"c":0.94},{"i":551,"o":0.94,"h":0.95,"l":0.92,"c":0.925},{"i":552,"o":0.925,"h":0.94,"l":0.915,"c":0.935},{"i":553,"o":0.935,"h":0.94,"l":0.915,"c":0.92},{"i":554,"o":0.92,"h":0.935,"l":0.91,"c":0.93},{"i":555,"o":0.93,"h":0.945,"l":0.92,"c":0.94},{"i":556,"o":0.94,"h":0.97,"l":0.935,"c":0.965},{"i":557,"o":0.965,"h":1.00,"l":0.96,"c":0.99},{"i":558,"o":0.99,"h":1.01,"l":0.97,"c":0.975},{"i":559,"o":0.975,"h":0.99,"l":0.955,"c":0.96},
{"i":560,"o":0.96,"h":0.97,"l":0.94,"c":0.955},{"i":561,"o":0.955,"h":0.965,"l":0.94,"c":0.945},{"i":562,"o":0.945,"h":0.96,"l":0.935,"c":0.955},{"i":563,"o":0.955,"h":0.965,"l":0.94,"c":0.945},{"i":564,"o":0.945,"h":0.96,"l":0.935,"c":0.95},{"i":565,"o":0.95,"h":0.96,"l":0.935,"c":0.94},{"i":566,"o":0.94,"h":0.955,"l":0.935,"c":0.95},{"i":567,"o":0.95,"h":0.965,"l":0.94,"c":0.945},{"i":568,"o":0.945,"h":0.96,"l":0.935,"c":0.955},{"i":569,"o":0.955,"h":0.97,"l":0.945,"c":0.95},
{"i":570,"o":0.95,"h":0.96,"l":0.935,"c":0.94},{"i":571,"o":0.94,"h":0.95,"l":0.925,"c":0.93},{"i":572,"o":0.93,"h":0.945,"l":0.92,"c":0.935},{"i":573,"o":0.935,"h":0.94,"l":0.915,"c":0.92},{"i":574,"o":0.92,"h":0.935,"l":0.915,"c":0.93},{"i":575,"o":0.93,"h":0.96,"l":0.925,"c":0.955},{"i":576,"o":0.955,"h":1.00,"l":0.95,"c":0.99},{"i":577,"o":0.99,"h":1.04,"l":0.98,"c":1.03},{"i":578,"o":1.03,"h":1.08,"l":1.02,"c":1.07},{"i":579,"o":1.07,"h":1.12,"l":1.05,"c":1.09},
{"i":580,"o":1.09,"h":1.11,"l":1.05,"c":1.06},{"i":581,"o":1.06,"h":1.12,"l":1.05,"c":1.11},{"i":582,"o":1.11,"h":1.20,"l":1.10,"c":1.18},{"i":583,"o":1.18,"h":1.26,"l":1.17,"c":1.25},{"i":584,"o":1.25,"h":1.26,"l":1.19,"c":1.21},{"i":585,"o":1.21,"h":1.25,"l":1.20,"c":1.23},{"i":586,"o":1.23,"h":1.24,"l":1.19,"c":1.20},{"i":587,"o":1.20,"h":1.23,"l":1.18,"c":1.22},{"i":588,"o":1.22,"h":1.23,"l":1.17,"c":1.18},{"i":589,"o":1.18,"h":1.20,"l":1.14,"c":1.15},
{"i":590,"o":1.15,"h":1.18,"l":1.12,"c":1.13},{"i":591,"o":1.13,"h":1.15,"l":1.09,"c":1.10},{"i":592,"o":1.10,"h":1.14,"l":1.06,"c":1.12},{"i":593,"o":1.12,"h":1.16,"l":1.10,"c":1.12},{"i":594,"o":1.12,"h":1.24,"l":1.12,"c":1.22}
],
"ma20":[
{"i":0.7,"v":0.52},{"i":5,"v":0.51},{"i":9.5,"v":0.49},{"i":14.2,"v":0.47},{"i":18.6,"v":0.465},{"i":23,"v":0.466},{"i":27.8,"v":0.474},{"i":32.2,"v":0.483},{"i":36.6,"v":0.482},{"i":43.4,"v":0.479},{"i":48.1,"v":0.477},{"i":54.9,"v":0.486},{"i":59.3,"v":0.489},{"i":63.7,"v":0.51},{"i":68.5,"v":0.545},{"i":72.9,"v":0.572},{"i":77.3,"v":0.59},{"i":82,"v":0.605},{"i":88.8,"v":0.61},{"i":93.2,"v":0.602},{"i":97.6,"v":0.595},{"i":103.4,"v":0.59},{"i":107.8,"v":0.585},{"i":111.2,"v":0.59},{"i":114.6,"v":0.60},{"i":118,"v":0.61},{"i":120.3,"v":0.615},{"i":122.7,"v":0.64},{"i":127.1,"v":0.68},{"i":132.2,"v":0.835},{"i":136.3,"v":0.93},{"i":139.7,"v":1.03},{"i":143,"v":1.08},{"i":147.5,"v":1.11},{"i":150.8,"v":1.16},{"i":157.6,"v":1.20},{"i":163.4,"v":1.21},{"i":167.8,"v":1.19},{"i":174.6,"v":1.16},{"i":178,"v":1.17},{"i":182.4,"v":1.24},{"i":185.8,"v":1.36},{"i":189.2,"v":1.45},{"i":192.5,"v":1.56},{"i":195.9,"v":1.64},{"i":199.3,"v":1.70},{"i":204,"v":1.74},{"i":210.8,"v":1.73},{"i":217.6,"v":1.70},{"i":224.4,"v":1.70},{"i":231.2,"v":1.73},{"i":238,"v":1.78},{"i":240,"v":1.78},{"i":246.8,"v":1.76},{"i":254.9,"v":1.74},{"i":262.7,"v":1.72},{"i":267.1,"v":1.68},{"i":271.9,"v":1.59},{"i":276.3,"v":1.44},{"i":280.7,"v":1.37},{"i":285.4,"v":1.33},{"i":289.8,"v":1.28},{"i":294.2,"v":1.25},{"i":299,"v":1.22},{"i":305.8,"v":1.19},{"i":310.2,"v":1.16},{"i":314.6,"v":1.14},{"i":319.3,"v":1.12},{"i":323.7,"v":1.09},{"i":326.1,"v":1.11},{"i":330.5,"v":1.18},{"i":334.9,"v":1.29},{"i":339.7,"v":1.39},{"i":344.1,"v":1.48},{"i":348.5,"v":1.52},{"i":353.2,"v":1.54},{"i":357.6,"v":1.54},{"i":364.4,"v":1.56},{"i":368.8,"v":1.52},{"i":373.6,"v":1.48},{"i":378,"v":1.43},{"i":382.4,"v":1.36},{"i":387.1,"v":1.31},{"i":391.5,"v":1.30},{"i":395.9,"v":1.28},{"i":400.7,"v":1.30},{"i":405.1,"v":1.32},{"i":410.8,"v":1.35},{"i":417.6,"v":1.33},{"i":423,"v":1.31},{"i":428.8,"v":1.28},{"i":434.6,"v":1.25},{"i":439,"v":1.24},{"i":443.4,"v":1.25},{"i":449.2,"v":1.255},{"i":460.3,"v":1.25},{"i":466.1,"v":1.255},{"i":468.5,"v":1.24},{"i":472.9,"v":1.18},{"i":477.3,"v":1.11},{"i":482,"v":1.06},{"i":486.4,"v":1.04},{"i":490.8,"v":1.02},{"i":495.6,"v":1.015},{"i":502.4,"v":1.015},{"i":506.8,"v":1.025},{"i":511.2,"v":1.03},{"i":515.9,"v":1.02},{"i":520.3,"v":1.0},{"i":526.1,"v":0.996},{"i":532.9,"v":0.994},{"i":537.3,"v":0.97},{"i":541.7,"v":0.96},{"i":547.5,"v":0.95},{"i":551.9,"v":0.94},{"i":558.6,"v":0.94},{"i":565.4,"v":0.95},{"i":572.2,"v":0.955},{"i":575.6,"v":0.96},{"i":579,"v":0.985},{"i":583.7,"v":1.04},{"i":588.1,"v":1.08},{"i":592.5,"v":1.11}
],
"ma200":[
{"i":0.3,"v":0.57},{"i":9.5,"v":0.56},{"i":21,"v":0.545},{"i":32.2,"v":0.535},{"i":43.4,"v":0.523},{"i":51.5,"v":0.515},{"i":59.3,"v":0.512},{"i":68.5,"v":0.514},{"i":77.3,"v":0.524},{"i":88.8,"v":0.53},{"i":100,"v":0.536},{"i":111.2,"v":0.54},{"i":120.3,"v":0.55},{"i":127.1,"v":0.562},{"i":131.5,"v":0.597},{"i":137.3,"v":0.643},{"i":148.5,"v":0.712},{"i":160,"v":0.776},{"i":171.2,"v":0.81},{"i":182.4,"v":0.872},{"i":193.9,"v":0.983},{"i":205.1,"v":1.105},{"i":218.6,"v":1.20},{"i":229.8,"v":1.28},{"i":242.4,"v":1.37},{"i":246.8,"v":1.39},{"i":258.3,"v":1.46},{"i":265.1,"v":1.49},{"i":271.9,"v":1.50},{"i":283,"v":1.50},{"i":296.6,"v":1.48},{"i":310.2,"v":1.45},{"i":321.4,"v":1.41},{"i":331.5,"v":1.40},{"i":344.1,"v":1.42},{"i":354.2,"v":1.425},{"i":363.4,"v":1.44},{"i":377,"v":1.42},{"i":393.9,"v":1.39},{"i":410.8,"v":1.37},{"i":427.8,"v":1.35},{"i":444.7,"v":1.33},{"i":455.9,"v":1.32},{"i":467.1,"v":1.31},{"i":476.3,"v":1.28},{"i":495.6,"v":1.24},{"i":518,"v":1.19},{"i":540.7,"v":1.11},{"i":563.4,"v":1.07},{"i":574.6,"v":1.05},{"i":580.3,"v":1.04},{"i":593.9,"v":1.05}
],
"whiteLines":[
{"i1":237.3,"p1":1.94,"i2":614.2,"p2":0.5025},{"i1":263.7,"p1":1.768,"i2":313.6,"p2":1.146},{"i1":361.7,"p1":1.657,"i2":584.7,"p2":0.948}
],
"blueLines":[
{"i1":11.5,"p1":0.41,"i2":449.5,"p2":1.391},{"i1":534.9,"p1":0.886,"i2":582,"p2":0.938},{"i1":275.6,"p1":0.965,"i2":499.3,"p2":0.965},{"i1":270.8,"p1":1.50,"i2":270.8,"p2":1.071},{"i1":270.8,"p1":1.071,"i2":329.5,"p2":1.071},{"i1":310,"p1":1.025,"i2":332.5,"p2":1.025},{"i1":193.6,"p1":0.85,"i2":193.6,"p2":1.96},{"i1":193.6,"p1":1.96,"i2":234.6,"p2":1.96},{"i1":193.6,"p1":0.85,"i2":234.6,"p2":0.85}
],
"fibDashed":[
{"i1":193.6,"p1":1.535,"i2":234.6,"p2":1.535},{"i1":193.6,"p1":1.405,"i2":234.6,"p2":1.405},{"i1":193.6,"p1":1.275,"i2":234.6,"p2":1.275}
],
"fibLabels":[
{"i":195.6,"p":1.96,"t":"1.960"},{"i":195.6,"p":1.535,"t":"1.535"},{"i":195.6,"p":1.405,"t":"1.405"},{"i":195.6,"p":1.275,"t":"1.275"},{"i":195.6,"p":0.85,"t":"0.850"}
],
"redLines":[
{"i1":126.8,"p1":1.432,"i2":297.2,"p2":1.432},{"i1":138,"p1":1.482,"i2":297,"p2":1.482},{"i1":297.3,"p1":1.136,"i2":304.4,"p2":1.136}
],
"winButtons":[
{"a":634.6,"b":638.3,"s":"_"},{"a":638.6,"b":642.4,"s":"□"},{"a":642.7,"b":646.4,"s":"×"}
]
},
"layer":[
{"data":{"name":"bars"},
 "mark":{"type":"rule","color":"#000000","strokeWidth":1},
 "encoding":{
  "x":{"field":"i","type":"quantitative","scale":{"domain":[-1.695,615.6],"nice":false,"zero":false},
   "axis":{"orient":"bottom","values":[5,28,50,69,91,111,131,152,174,195,217,239,260,283,304,323,345,365,387,406,428,450,471,494,515,538,558,579,600],
    "labelExpr":"['Oct','Nov','Dic','18','Feb','Mar','Abr','May','Jun','Jul','Ago','Sep','Oct','Nov','Dic','19','Feb','Mar','Abr','May','Jun','Jul','Ago','Sep','Oct','Nov','Dic','20','Feb'][indexof([5,28,50,69,91,111,131,152,174,195,217,239,260,283,304,323,345,365,387,406,428,450,471,494,515,538,558,579,600], datum.value)]",
    "domain":false,"ticks":true,"tickSize":9,"tickColor":"#000000","tickWidth":1,"labelAlign":"left","labelOffset":4,"labelPadding":-5,"labelBaseline":"top","labelFontSize":11,"labelColor":"#1a1a1a","labelOverlap":false,"labelFlush":false,"grid":false,"title":null,"zindex":1}},
  "y":{"field":"l","type":"quantitative","scale":{"type":"log","domain":[0.3851,2.157],"nice":false,"zero":false},
   "axis":{"orient":"right","values":[0.4,0.5,0.6,0.7,0.8,0.9,1,1.1,1.2,1.3,1.4,1.5,1.6,1.7,1.8,1.9,2,2.1],
    "labelExpr":"replace(format(datum.value,'.3f'),'.',',')","domain":true,"domainColor":"#000000","domainWidth":1,"ticks":true,"tickSize":4,"tickColor":"#000080","labelColor":"#000080","labelFontSize":13,"labelPadding":1,"labelBaseline":"middle","labelOverlap":false,"labelFlush":false,"grid":false,"title":null,"zindex":0}},
  "y2":{"field":"h"}
 }},
{"data":{"name":"bars"},
 "mark":{"type":"bar","width":3,"stroke":"#000000","strokeWidth":0.9},
 "encoding":{
  "x":{"field":"i","type":"quantitative"},
  "y":{"field":"o","type":"quantitative"},
  "y2":{"field":"c"},
  "fill":{"condition":{"test":"datum.c < datum.o","value":"#000000"},"value":"#8080FF"}
 }},
{"data":{"name":"bars"},
 "transform":[{"window":[{"op":"mean","field":"c","as":"m5"}],"sort":[{"field":"i"}],"frame":[-4,0]}],
 "mark":{"type":"line","color":"#4A0E5E","strokeWidth":1},
 "encoding":{"x":{"field":"i","type":"quantitative"},"y":{"field":"m5","type":"quantitative"}}},
{"data":{"name":"ma200"},
 "mark":{"type":"line","color":"#000000","strokeWidth":1.2,"interpolate":"monotone"},
 "encoding":{"x":{"field":"i","type":"quantitative"},"y":{"field":"v","type":"quantitative"}}},
{"data":{"name":"ma20"},
 "mark":{"type":"line","color":"#E4102E","strokeWidth":1.3,"interpolate":"monotone"},
 "encoding":{"x":{"field":"i","type":"quantitative"},"y":{"field":"v","type":"quantitative"}}},
{"data":{"name":"whiteLines"},
 "mark":{"type":"rule","color":"#FFFFFF","strokeWidth":1.4},
 "encoding":{"x":{"field":"i1","type":"quantitative"},"x2":{"field":"i2"},"y":{"field":"p1","type":"quantitative"},"y2":{"field":"p2"}}},
{"data":{"name":"blueLines"},
 "mark":{"type":"rule","color":"#0A0AB4","strokeWidth":1.2},
 "encoding":{"x":{"field":"i1","type":"quantitative"},"x2":{"field":"i2"},"y":{"field":"p1","type":"quantitative"},"y2":{"field":"p2"}}},
{"data":{"name":"fibDashed"},
 "mark":{"type":"rule","color":"#0A0AB4","strokeWidth":1,"strokeDash":[3,3]},
 "encoding":{"x":{"field":"i1","type":"quantitative"},"x2":{"field":"i2"},"y":{"field":"p1","type":"quantitative"},"y2":{"field":"p2"}}},
{"data":{"name":"redLines"},
 "mark":{"type":"rule","color":"#E4102E","strokeWidth":1.2},
 "encoding":{"x":{"field":"i1","type":"quantitative"},"x2":{"field":"i2"},"y":{"field":"p1","type":"quantitative"},"y2":{"field":"p2"}}},
{"data":{"name":"fibLabels"},
 "mark":{"type":"text","align":"left","baseline":"middle","dy":-8,"fontSize":11,"color":"#2E2ED2"},
 "encoding":{"x":{"field":"i","type":"quantitative"},"y":{"field":"p","type":"quantitative"},"text":{"field":"t"}}},
{"data":{"values":[{}]},
 "mark":{"type":"rect","fill":"#6C6CE4","clip":false},
 "encoding":{"x":{"datum":-5,"type":"quantitative"},"x2":{"datum":660},"y":{"datum":2.157,"type":"quantitative"},"y2":{"datum":3}}},
{"data":{"values":[{}]},
 "mark":{"type":"rect","fill":"#FFFFE1","clip":false},
 "encoding":{"x":{"datum":-5,"type":"quantitative"},"x2":{"datum":660},"y":{"datum":0.3851,"type":"quantitative"},"y2":{"datum":0.3}}},
{"data":{"name":"winButtons"},
 "mark":{"type":"rect","fill":"#D4D0C8","stroke":"#404040","strokeWidth":0.8,"clip":false},
 "encoding":{"x":{"field":"a","type":"quantitative"},"x2":{"field":"b"},"y":{"datum":2.165,"type":"quantitative"},"y2":{"datum":2.211}}},
{"data":{"name":"winButtons"},
 "mark":{"type":"text","align":"center","baseline":"middle","fontSize":9,"fontWeight":"bold","color":"#000000","clip":false},
 "encoding":{"x":{"field":"a","type":"quantitative"},"y":{"datum":2.188,"type":"quantitative"},"text":{"field":"s"},"xOffset":{"value":5.5}}},
{"data":{"values":[{}]},
 "mark":{"type":"text","text":"BIO.MC - BIOSEARCH - Fin de día 1 días  H: 17:38  A: 1,120  M: 1,240  m: 1,120  C: 1,220","align":"left","baseline":"middle","fontSize":10,"color":"#14143C","clip":false},
 "encoding":{"x":{"datum":0,"type":"quantitative"},"y":{"datum":2.19,"type":"quantitative"}}},
{"data":{"values":[{}]},
 "mark":{"type":"text","text":"P   2,100","align":"left","baseline":"middle","fontSize":10,"color":"#FF2040","clip":false},
 "encoding":{"x":{"datum":147.5,"type":"quantitative"},"y":{"datum":2.19,"type":"quantitative"}}},
{"data":{"values":[{}]},
 "mark":{"type":"text","text":"V: 1.185.897  F: 23/01/2020","align":"left","baseline":"middle","fontSize":10,"color":"#14143C","clip":false},
 "encoding":{"x":{"datum":163.7,"type":"quantitative"},"y":{"datum":2.19,"type":"quantitative"}}},
{"data":{"values":[{}]},
 "mark":{"type":"rect","fill":"#C8DCF0","stroke":"#303040","strokeWidth":1},
 "encoding":{"x":{"datum":0.7,"type":"quantitative"},"x2":{"datum":22},"y":{"datum":0.3885,"type":"quantitative"},"y2":{"datum":0.3985}}},
{"data":{"values":[{}]},
 "mark":{"type":"text","text":"Sin órdenes","align":"center","baseline":"middle","fontSize":10,"color":"#101010"},
 "encoding":{"x":{"datum":11.3,"type":"quantitative"},"y":{"datum":0.3935,"type":"quantitative"}}},
{"data":{"values":[{}]},
 "mark":{"type":"rect","fill":"#B4B4F4"},
 "encoding":{"x":{"datum":23.7,"type":"quantitative"},"x2":{"datum":81.4},"y":{"datum":0.3877,"type":"quantitative"},"y2":{"datum":0.3975}}},
{"data":{"values":[{}]},
 "mark":{"type":"text","text":"www.visualchart.com","align":"left","baseline":"middle","font":"DejaVu Sans","fontWeight":"bold","fontSize":13.5,"color":"#FFFFFF"},
 "encoding":{"x":{"datum":24.2,"type":"quantitative"},"y":{"datum":0.3927,"type":"quantitative"}}},
{"data":{"values":[{}]},
 "mark":{"type":"rect","fill":"#FFFFC0","stroke":"#000000","strokeWidth":1,"clip":false},
 "encoding":{"x":{"datum":617.6,"type":"quantitative"},"x2":{"datum":628.8},"y":{"datum":1.2065,"type":"quantitative"},"y2":{"datum":1.2395}}},
{"data":{"values":[{}]},
 "mark":{"type":"text","text":"1,220","align":"center","baseline":"middle","fontSize":11.5,"color":"#000000","clip":false},
 "encoding":{"x":{"datum":623.2,"type":"quantitative"},"y":{"datum":1.2235,"type":"quantitative"}}}
]
}
